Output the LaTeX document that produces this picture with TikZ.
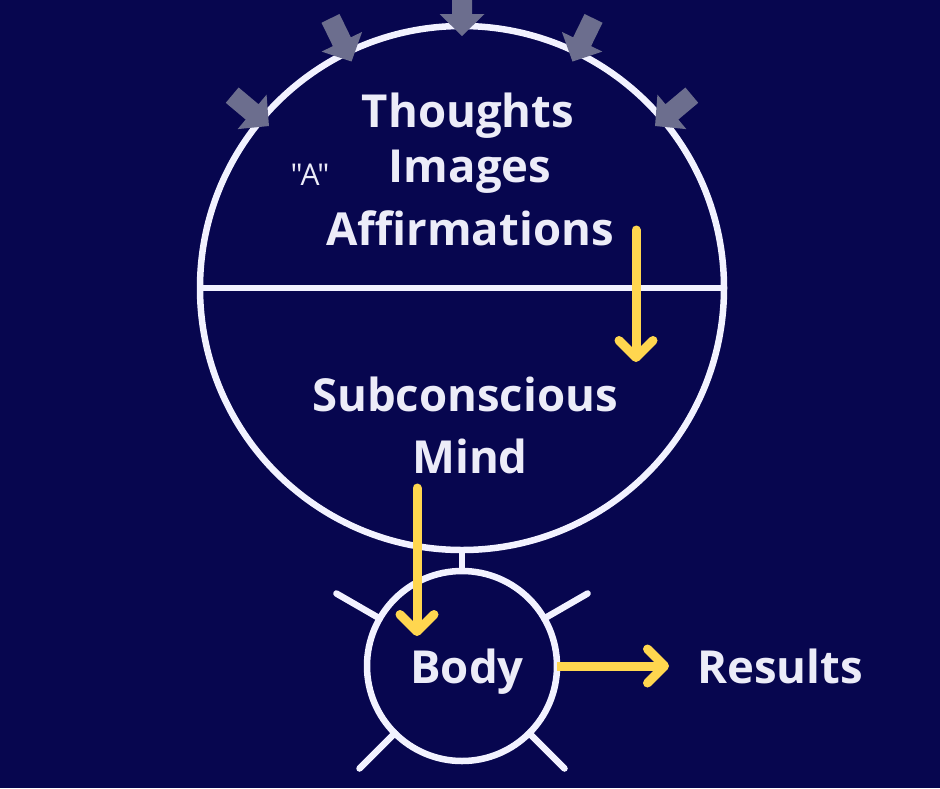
\documentclass[tikz,border=0pt]{standalone}
\usepackage{fontspec}
\setmainfont{Open Sans}
\newfontfamily\qfont{Open Sans}
\usetikzlibrary{arrows.meta,calc}
\definecolor{bg}{HTML}{07064F}
\definecolor{ring}{HTML}{F2F2FF}
\definecolor{txt}{HTML}{ECECF8}
\definecolor{gold}{HTML}{FFD64F}
\definecolor{greyarr}{HTML}{6C6E8E}
\tikzset{
  ringstyle/.style={draw=ring, line width=6.5pt, line cap=round},
  bigtext/.style={text=txt, font=\fontsize{45.5}{48}\selectfont\bfseries, inner sep=0pt, anchor=base},
  smalltext/.style={text=txt, font=\qfont\fontsize{30}{32}\selectfont, inner sep=0pt, anchor=base},
  yarrow/.style={draw=gold, line width=9pt, line cap=round,
    -{Straight Barb[length=17pt, width=34pt, line width=9pt, round]}},
  greyhead/.style={fill=greyarr}
}
\begin{document}
\begin{tikzpicture}[x=1pt,y=-1pt]
\fill[bg] (0,0) rectangle (940,788);
\useasboundingbox (0,0) rectangle (940,788);
\clip (0,0) rectangle (940,788);

% main circle and body circle
\node[circle, ringstyle, minimum size=524pt, inner sep=0pt, outer sep=0pt] (mind) at (462,288) {};
\node[circle, ringstyle, minimum size=190pt, inner sep=0pt, outer sep=0pt] (body) at (462,666) {};
\draw[ringstyle, line cap=butt] (mind.west) -- (mind.east);
\draw[ringstyle, line cap=butt] (mind.south) -- (body.north);

% spokes
\coordinate (s30) at (587.6,593.5);
\coordinate (s150) at (336.4,593.5);
\coordinate (s225) at (359.5,768.5);
\coordinate (s315) at (564.5,768.5);
\draw[ringstyle] (body.30) -- (s30);
\draw[ringstyle] (body.150) -- (s150);
\draw[ringstyle] (body.225) -- (s225);
\draw[ringstyle] (body.315) -- (s315);

% grey incoming arrows
\foreach \a in {40,64,90,116,140}{
  \fill[greyhead, shift={($(mind.center)+(\a:252pt)$)}, rotate=\a+180]
    (0,0) -- (-22,22.5) -- (-22,10) -- (-48,10) -- (-48,-10) -- (-22,-10) -- (-22,-22.5) -- cycle;
}

% texts
\node[bigtext] (thoughts) at (468,127) {Thoughts};
\node[bigtext] (images) at (470,182) {Images};
\node[bigtext] (affirm) at (470,245) {Affirmations};
\node[smalltext] (quoteA) at (310,185) {"A"};
\node[bigtext] (subc) at (465,411) {Subconscious};
\node[bigtext] (mindtxt) at (470,473) {Mind};
\node[bigtext] (bodytxt) at (467,683) {Body};
\node[bigtext] (results) at (780,683) {Results};

% yellow arrows
\coordinate (y1s) at (636,230);
\coordinate (y1e) at (636,362);
\coordinate (y2s) at (417,488);
\coordinate (y2e) at (417,636);
\coordinate (y3e) at (669,666);
\draw[yarrow] (y1s) -- (y1e);
\draw[yarrow] (y2s) -- (y2e);
\draw[yarrow, line cap=butt] (body.east) -- (y3e);
\end{tikzpicture}
\end{document}
